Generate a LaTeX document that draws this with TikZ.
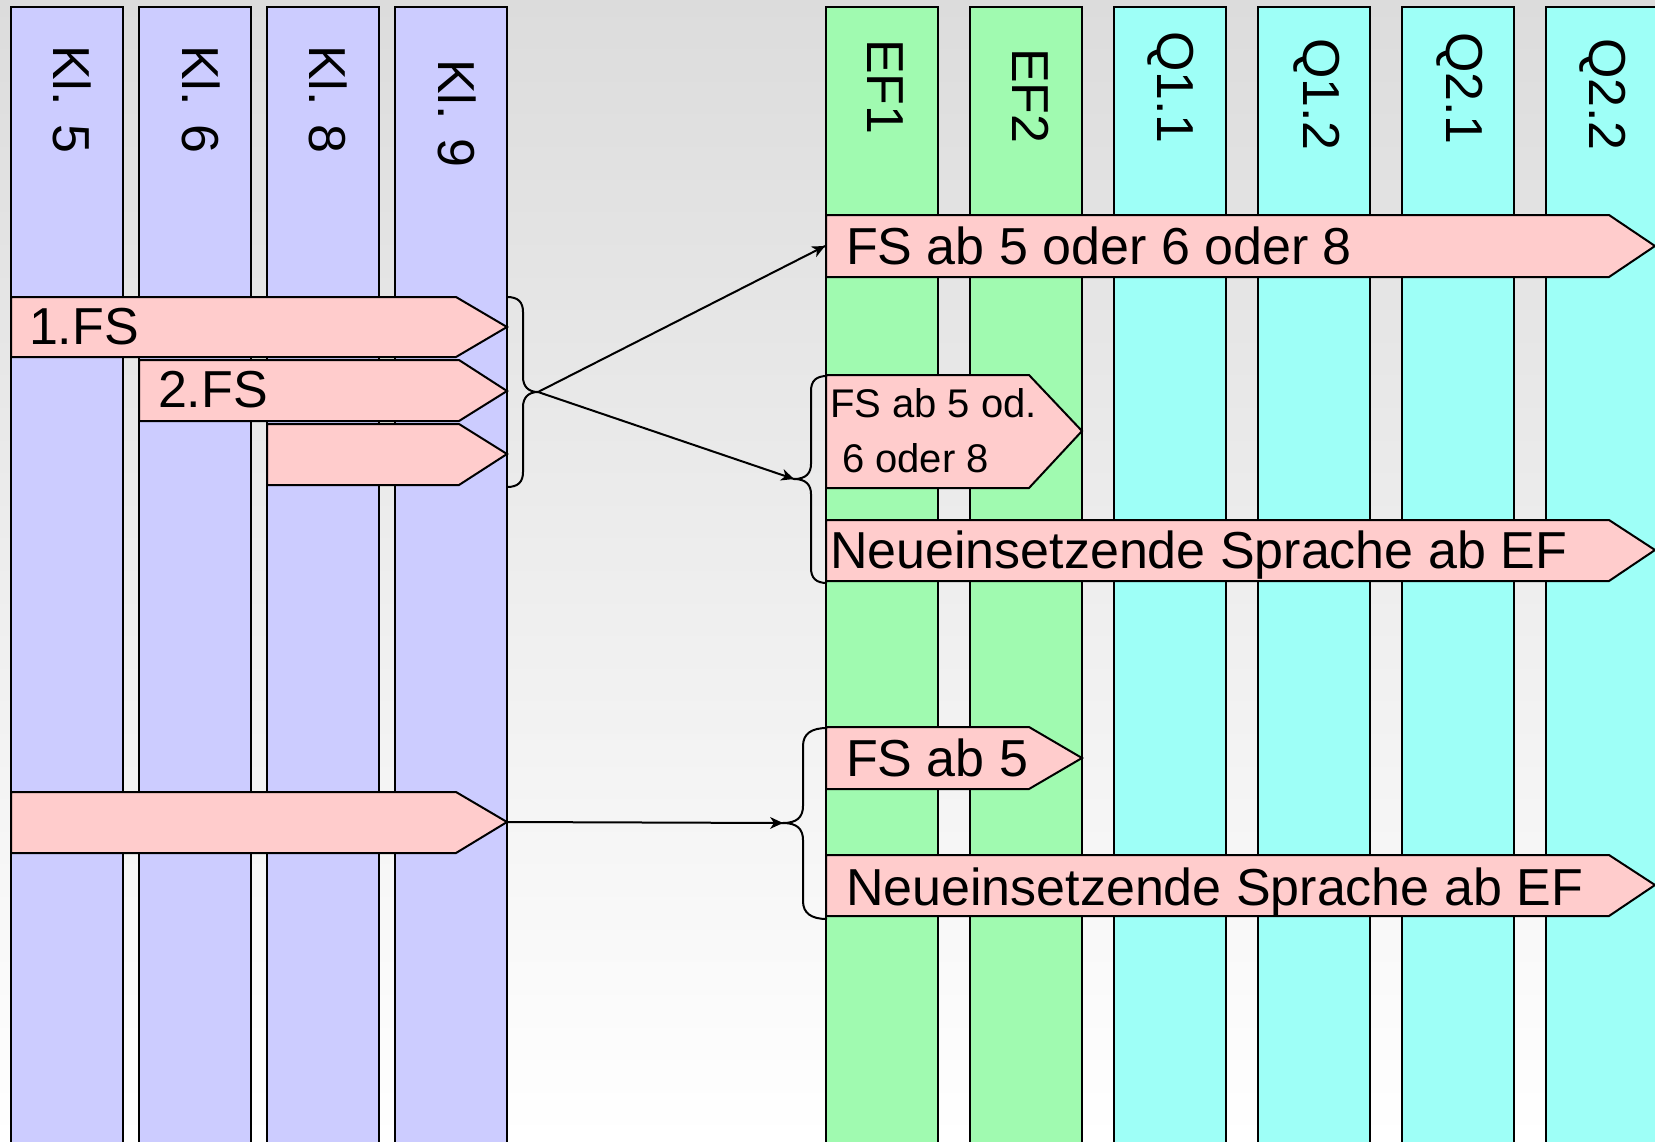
\documentclass[tikz,border=0pt]{standalone}
\usepackage{fontspec}
\setmainfont{Liberation Sans}
\newcommand\grosseschrift{\fontsize{26}{31}\selectfont}
\newcommand\kleineschrift{\fontsize{20}{27.5}\selectfont}
\definecolor{hgoben}{RGB}{220,220,220}
\definecolor{lila}{RGB}{204,204,255}
\definecolor{gruen}{RGB}{160,250,176}
\definecolor{tuerkis}{RGB}{158,255,247}
\definecolor{rosa}{RGB}{255,204,204}
\tikzset{every picture/.style={line width=1pt},
  spalte/.style={draw=black, line width=1pt},
  pfeil/.style={draw=black, fill=rosa, line width=1pt},
  spaltentext/.style={rotate=-90, anchor=west, inner sep=0pt, font=\grosseschrift},
  pfeiltext/.style={anchor=base west, inner sep=0pt, font=\grosseschrift},
  klammer/.style={draw=black, line width=1pt}}
\begin{document}
\begin{tikzpicture}[x=0.5pt,y=0.5pt,yscale=-1,xscale=1]
\clip (0,0) rectangle (1655,1141);
%Background
\shade [top color=hgoben, bottom color=white] (0,0) rectangle (1655,1141);

%Shape: Rectangle (Klassen 5 bis 9)
\draw [spalte, fill=lila] (11,7) rectangle (123,1160);
\draw [spalte, fill=lila] (139,7) rectangle (251,1160);
\draw [spalte, fill=lila] (267,7) rectangle (379,1160);
\draw [spalte, fill=lila] (395,7) rectangle (507,1160);
%Shape: Rectangle (Oberstufe)
\draw [spalte, fill=gruen] (826,7) rectangle (938,1160);
\draw [spalte, fill=gruen] (970,7) rectangle (1082,1160);
\draw [spalte, fill=tuerkis] (1114,7) rectangle (1226,1160);
\draw [spalte, fill=tuerkis] (1258,7) rectangle (1370,1160);
\draw [spalte, fill=tuerkis] (1402,7) rectangle (1514,1160);
\draw [spalte, fill=tuerkis] (1546,7) rectangle (1658,1160);

% Text Node
\node [spaltentext] (kl5) at (72,44) {Kl. 5};
% Text Node
\node [spaltentext] (kl6) at (201,44) {Kl. 6};
% Text Node
\node [spaltentext] (kl8) at (328,44) {Kl. 8};
% Text Node
\node [spaltentext] (kl9) at (457,58) {Kl. 9};
% Text Node
\node [spaltentext] (ef1) at (885,38) {EF1};
% Text Node
\node [spaltentext] (ef2) at (1031,47) {EF2};
% Text Node
\node [spaltentext] (q11) at (1171,30) {Q1.1};
% Text Node
\node [spaltentext] (q12) at (1317,37) {Q1.2};
% Text Node
\node [spaltentext] (q21) at (1460,31) {Q2.1};
% Text Node
\node [spaltentext] (q22) at (1603,37) {Q2.2};

%Shape: Pfeile links
\draw [pfeil] (11,297) -- (456,297) -- (507,327) -- (456,357) -- (11,357) -- cycle ;
\draw [pfeil] (139,360) -- (459,360) -- (507,391) -- (459,421) -- (139,421) -- cycle ;
\draw [pfeil] (267,424) -- (459,424) -- (507,454) -- (459,485) -- (267,485) -- cycle ;
\draw [pfeil] (11,792) -- (456,792) -- (507,822) -- (456,853) -- (11,853) -- cycle ;
%Shape: Pfeile rechts
\draw [pfeil] (826,215) -- (1609,215) -- (1655,246) -- (1609,277) -- (826,277) -- cycle ;
\draw [pfeil] (826,375) -- (1029,375) -- (1082,431) -- (1029,488) -- (826,488) -- cycle ;
\draw [pfeil] (826,520) -- (1609,520) -- (1655,550) -- (1609,581) -- (826,581) -- cycle ;
\draw [pfeil] (826,727) -- (1029,727) -- (1082,758) -- (1029,789) -- (826,789) -- cycle ;
\draw [pfeil] (826,855) -- (1609,855) -- (1655,885) -- (1609,916) -- (826,916) -- cycle ;

% Text Node
\node [pfeiltext] (fs1) at (28,344) {1.FS};
% Text Node
\node [pfeiltext] (fs2) at (157,407) {2.FS};
% Text Node
\node [pfeiltext] (fsA) at (845,264) {FS ab 5 oder 6 oder 8};
% Text Node
\node [pfeiltext, font=\kleineschrift] (fsB) at (829,417) {FS ab 5 od.};
% Text Node
\node [pfeiltext, font=\kleineschrift] (fsBb) at (841,472) {6 oder 8};
% Text Node
\node [pfeiltext] (neuA) at (829,568) {Neueinsetzende Sprache ab EF};
% Text Node
\node [pfeiltext] (fsC) at (845,776) {FS ab 5};
% Text Node
\node [pfeiltext] (neuB) at (845,905) {Neueinsetzende Sprache ab EF};

\coordinate (klammer1) at (538,392);
\coordinate (klammer2) at (794,479);
\coordinate (klammer3) at (783,823);
\coordinate (fsAein) at (825,246);
\coordinate (spitze4) at (507,822);

%Shape: Brace
\draw [klammer] (507,297) .. controls (518,297) and (523,302) .. (523,312) -- (523,377) .. controls (523,386) and (528,392) .. (klammer1) .. controls (528,392) and (523,398) .. (523,407) -- (523,472) .. controls (523,482) and (518,487) .. (507,487) ;
%Shape: Brace
\draw [klammer] (827,376) .. controls (816,376) and (811,381) .. (811,391) -- (811,464) .. controls (811,473) and (806,479) .. (klammer2) .. controls (806,479) and (811,485) .. (811,494) -- (811,568) .. controls (811,578) and (816,583) .. (827,583) ;
%Shape: Brace
\draw [klammer] (827,728) .. controls (811,728) and (803,734) .. (803,746) -- (803,806) .. controls (803,817) and (797,823) .. (klammer3) .. controls (797,823) and (803,829) .. (803,840) -- (803,901) .. controls (803,913) and (811,919) .. (827,919) ;

%Straight Lines
\draw (klammer1) -- (fsAein) ;
\draw [shift={(fsAein)}, rotate = 153.04] [fill=black][line width=0.08] [draw opacity=0] (13,-6) -- (0,0) -- (13,6) -- (9,0) -- cycle ;
%Straight Lines
\draw (klammer1) -- (klammer2) ;
\draw [shift={(klammer2)}, rotate = 198.77] [fill=black][line width=0.08] [draw opacity=0] (13,-6) -- (0,0) -- (13,6) -- (9,0) -- cycle ;
%Straight Lines
\draw (spitze4) -- (klammer3) ;
\draw [shift={(klammer3)}, rotate = 180.21] [fill=black][line width=0.08] [draw opacity=0] (13,-6) -- (0,0) -- (13,6) -- (9,0) -- cycle ;

\end{tikzpicture}
\end{document}
